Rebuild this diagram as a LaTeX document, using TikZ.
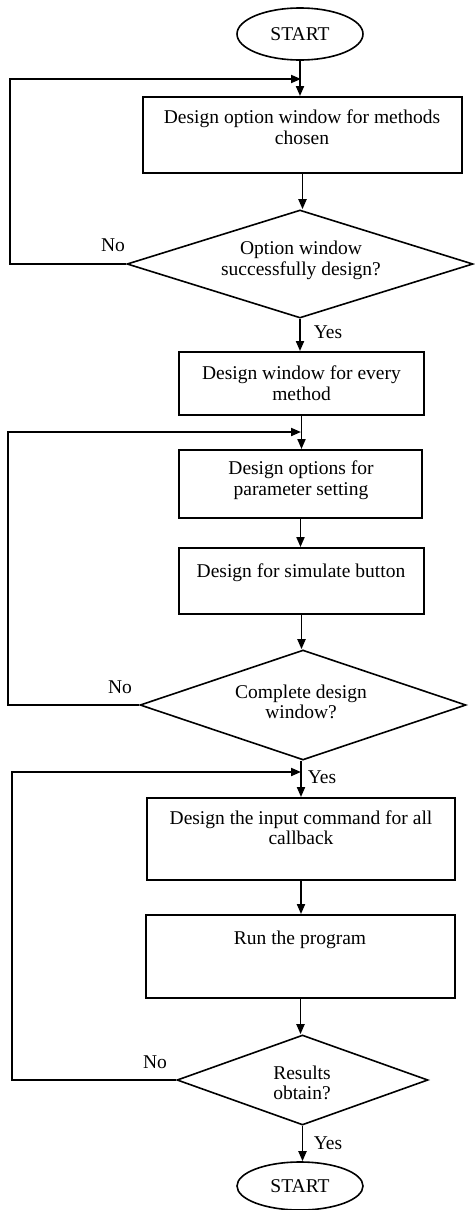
\documentclass[tikz,border=0pt]{standalone}
\usepackage{fontspec}
\setmainfont{Liberation Serif}
\usetikzlibrary{arrows.meta,shapes.geometric}
\begin{document}
\begin{tikzpicture}[x=1pt,y=-1pt,
  line width=1.9pt,
  every node/.style={font=\fontsize{19.5}{20.5}\selectfont},
  arr/.style={-{Triangle[length=10pt,width=8pt]}},
  boxshape/.style={draw,rectangle,inner sep=0pt,line width=1.9pt},
  decision/.style={draw,diamond,inner sep=0pt,line width=1.6pt},
  term/.style={draw,ellipse,inner sep=0pt,line width=1.6pt},
  txt/.style={align=center,inner sep=0pt},
  lbl/.style={inner sep=0pt}]
\useasboundingbox (0,0) rectangle (474,1210);
% terminals
\node[term,minimum width=126pt,minimum height=52pt] (s1) at (300,34) {START};
\node[term,minimum width=126pt,minimum height=48pt] (s2) at (300,1186) {START};
% boxes
\node[boxshape,minimum width=319pt,minimum height=76pt] (b1) at (302.5,135) {};
\node[txt] (t1) at (302,127) {Design option window for methods\\chosen};
\node[boxshape,minimum width=245pt,minimum height=63pt] (b2) at (301.5,383.5) {};
\node[txt] (t2) at (301.5,383) {Design window for every\\method};
\node[boxshape,minimum width=243pt,minimum height=68pt] (b3) at (300.5,484) {};
\node[txt] (t3) at (301,480) {Design options for\\parameter setting};
\node[boxshape,minimum width=245pt,minimum height=66pt] (b4) at (301.5,581) {};
\node[txt] (t4) at (301,573) {Design for simulate button};
\node[boxshape,minimum width=308pt,minimum height=82pt] (b5) at (301,839) {};
\node[txt] (t5) at (301,827.5) {Design the input command for all\\callback};
\node[boxshape,minimum width=309pt,minimum height=83pt] (b6) at (300.5,956.5) {};
\node[txt] (t6) at (300,940) {Run the program};
% decisions
\node[decision,minimum width=346pt,minimum height=108pt] (d1) at (300,264) {};
\node[txt] (td1) at (301,260.5) {Option window\\successfully design?};
\node[decision,minimum width=326pt,minimum height=110pt] (d2) at (303,705) {};
\node[txt] (td2) at (301,702) {Complete design\\window?};
\node[decision,minimum width=251pt,minimum height=90pt] (d3) at (302.5,1080) {};
\node[txt] (td3) at (302,1083) {Results\\obtain?};
% labels
\node[lbl] (n1) at (113,245) {No};
\node[lbl] (y1) at (328,332) {Yes};
\node[lbl] (n2) at (120,687) {No};
\node[lbl] (y2) at (322,777) {Yes};
\node[lbl] (n3) at (155,1062) {No};
\node[lbl] (y3) at (328,1143) {Yes};
% junction coordinates
\coordinate (j1) at (301,79);
\coordinate (j2) at (301,432);
\coordinate (j3) at (301,772);
\coordinate (c1a) at (10,264);
\coordinate (c1b) at (10,79);
\coordinate (c2a) at (8,705);
\coordinate (c2b) at (8,432);
\coordinate (c3a) at (12,1080);
\coordinate (c3b) at (12,772);
% main flow
\draw[arr] (s1.south) -- (s1.south |- b1.north);
\draw[arr] (b1.south) -- (b1.south |- d1.north);
\draw[arr] (d1.south) -- (d1.south |- b2.north);
\draw[arr] (b2.south) -- (b2.south |- b3.north);
\draw[arr] (b3.south) -- (b3.south |- b4.north);
\draw[arr] (b4.south) -- (b4.south |- d2.north);
\draw[arr] (d2.south -| j3) -- (j3 |- b5.north);
\draw[arr] (b5.south) -- (b5.south |- b6.north);
\draw[arr] (b6.south) -- (b6.south |- d3.north);
\draw[arr] (d3.south) -- (d3.south |- s2.north);
% loops
\draw[arr] (d1.west) -- (c1a) -- (c1b) -- (j1);
\draw[arr] (d2.west) -- (c2a) -- (c2b) -- (j2);
\draw[arr] (d3.west) -- (c3a) -- (c3b) -- (j3);
\end{tikzpicture}
\end{document}
